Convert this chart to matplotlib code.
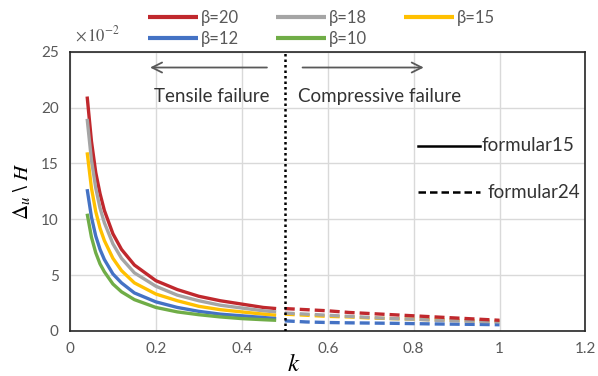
import matplotlib

matplotlib.use("Agg")
import matplotlib.pyplot as plt

plt.rcParams["font.family"] = ["Lato", "DejaVu Sans"]
plt.rcParams["mathtext.fontset"] = "stix"

# tensile side (formula 15), k < 0.5
k_tension = [0.04, 0.05, 0.06, 0.07, 0.08, 0.10, 0.12, 0.15, 0.20, 0.25, 0.30, 0.35, 0.40, 0.45, 0.48]
beta20_t = [21.0, 17.0, 14.2, 12.3, 10.8, 8.7, 7.3, 5.9, 4.5, 3.7, 3.1, 2.7, 2.4, 2.1, 2.0]
beta18_t = [19.0, 15.3, 12.8, 11.0, 9.7, 7.8, 6.5, 5.2, 4.0, 3.2, 2.7, 2.3, 2.05, 1.8, 1.7]
beta15_t = [16.0, 12.8, 10.7, 9.2, 8.1, 6.5, 5.4, 4.3, 3.3, 2.7, 2.2, 1.9, 1.7, 1.5, 1.4]
beta12_t = [12.7, 10.2, 8.5, 7.3, 6.4, 5.1, 4.3, 3.4, 2.6, 2.1, 1.75, 1.5, 1.35, 1.2, 1.1]
beta10_t = [10.5, 8.4, 7.0, 6.0, 5.3, 4.2, 3.5, 2.8, 2.1, 1.7, 1.45, 1.25, 1.1, 1.0, 0.95]

# compressive side (formula 24), k >= 0.5
k_compress = [0.50, 0.55, 0.60, 0.65, 0.70, 0.75, 0.80, 0.85, 0.90, 0.95, 1.00]
beta20_c = [2.0, 1.9, 1.8, 1.65, 1.55, 1.45, 1.35, 1.25, 1.15, 1.05, 0.95]
beta18_c = [1.6, 1.5, 1.4, 1.3, 1.2, 1.1, 1.05, 0.95, 0.9, 0.85, 0.8]
beta15_c = [1.5, 1.4, 1.3, 1.25, 1.15, 1.1, 1.05, 1.0, 0.95, 0.9, 0.85]
beta12_c = [0.9, 0.8, 0.75, 0.72, 0.7, 0.68, 0.65, 0.62, 0.6, 0.58, 0.55]

labels = ["β=20", "β=18", "β=15", "β=12", "β=10"]
colors = ["#C0282D", "#A5A5A5", "#FFC000", "#4472C4", "#70AD47"]
tension = [beta20_t, beta18_t, beta15_t, beta12_t, beta10_t]
compress = [beta20_c, beta18_c, beta15_c, beta12_c, None]

x_ticks = [0, 0.2, 0.4, 0.6, 0.8, 1.0, 1.2]
x_ticklabels = ["0", "0.2", "0.4", "0.6", "0.8", "1", "1.2"]
y_ticks = [0, 5, 10, 15, 20, 25]

text_color = "#595959"
note_color = "#333333"

fig = plt.figure(figsize=(5.98, 3.76), dpi=100)
ax = fig.add_axes([0.117, 0.12, 0.862, 0.742])

handles = {}
for label, color, t_vals in zip(labels, colors, tension):
    (h,) = ax.plot(k_tension, t_vals, color=color, lw=2.4, solid_capstyle="butt", label=label)
    handles[label] = h
for color, c_vals in reversed(list(zip(colors, compress))):
    if c_vals is None:
        continue
    ax.plot(k_compress, c_vals, color=color, lw=2.4, linestyle=(0, (3, 1.5)))

ax.axvline(0.5, color="black", lw=1.8, linestyle=(0, (1, 1.2)), zorder=5)

ax.set_xlim(0, 1.2)
ax.set_ylim(0, 25)
ax.set_xticks(x_ticks)
ax.set_xticklabels(x_ticklabels)
ax.set_yticks(y_ticks)
ax.grid(True, color="#D9D9D9", lw=1.0)
ax.set_axisbelow(True)
ax.tick_params(length=0, labelsize=11, colors=text_color, pad=8)
for spine in ax.spines.values():
    spine.set_color("#262626")
    spine.set_linewidth(1.2)

ax.set_xlabel("$k$", fontsize=18)
ax.xaxis.set_label_coords(0.435, -0.075)
ax.set_ylabel(r"$\Delta_u\ \backslash\ H$", fontsize=15, labelpad=6)

# failure-mode annotations
arrow_style = dict(arrowstyle="->", color="#595959", lw=1.3, mutation_scale=18)
ax.annotate("", xy=(0.18, 23.6), xytext=(0.465, 23.6), arrowprops=arrow_style)
ax.annotate("", xy=(0.83, 23.6), xytext=(0.535, 23.6), arrowprops=arrow_style)
ax.text(0.33, 21.0, "Tensile failure", ha="center", va="center", fontsize=13.5, color=note_color)
ax.text(0.72, 21.0, "Compressive failure", ha="center", va="center", fontsize=13.5, color=note_color)

# formula key
ax.plot([0.81, 0.955], [16.6, 16.6], color="black", lw=1.8)
ax.plot([0.81, 0.955], [12.4, 12.4], color="black", lw=1.8, linestyle=(0, (3, 1.6)))
ax.text(0.958, 16.6, "formular15", ha="left", va="center", fontsize=13.5, color=note_color)
ax.text(0.972, 12.4, "formular24", ha="left", va="center", fontsize=13.5, color=note_color)

fig.text(0.125, 0.91, r"$\times\,10^{-2}$", fontsize=12, color=text_color, ha="left", va="center")

# legend filled column-wise, so order handles to read row by row
order = ["β=20", "β=12", "β=18", "β=10", "β=15"]
leg = fig.legend(
    handles=[handles[name] for name in order],
    loc="upper left",
    bbox_to_anchor=(0.23, 1.0),
    ncol=3,
    frameon=False,
    fontsize=12,
    handlelength=3.0,
    handletextpad=0.2,
    columnspacing=2.2,
    labelspacing=0.3,
    borderaxespad=0.2,
)
for txt in leg.get_texts():
    txt.set_color(text_color)
for line in leg.get_lines():
    line.set_linewidth(3)

fig.savefig("out.png", dpi=100)
